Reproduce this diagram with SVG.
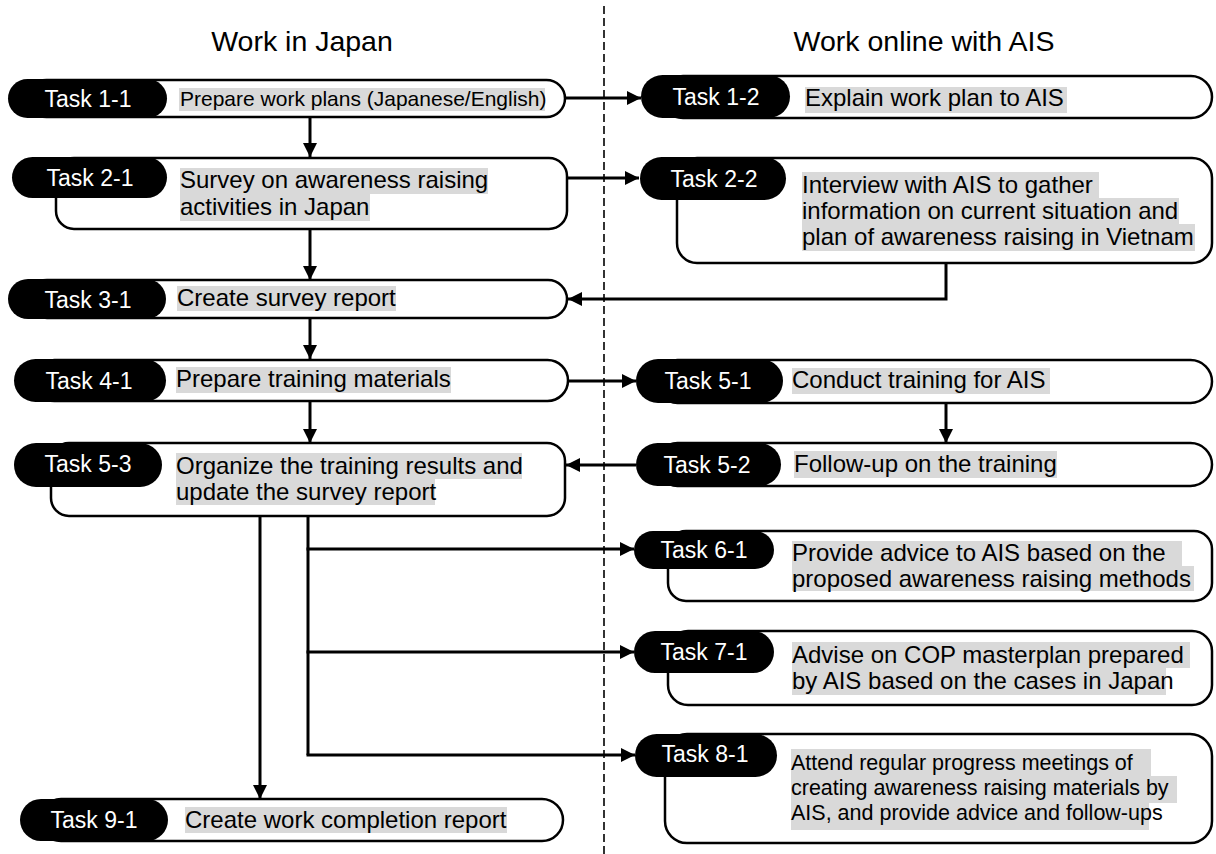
<svg xmlns="http://www.w3.org/2000/svg" width="1216" height="854" viewBox="0 0 1216 854">
<style>
text{font-family:"Liberation Sans",Arial,sans-serif;}
.title{font-size:28.5px;fill:#000;text-anchor:middle;}
.box{fill:#fff;stroke:#000;stroke-width:2.5;}
.pill{fill:#000;}
.lbl{font-size:23px;fill:#fff;text-anchor:middle;}
.t{font-size:24px;fill:#000;}
.ts{font-size:21px;fill:#000;}
.ts2{font-size:21.5px;fill:#000;}
.hl{fill:#d9d9d9;}
.con{fill:none;stroke:#000;stroke-width:3;}
.div{stroke:#000;stroke-width:1.6;stroke-dasharray:8 4;}
</style>
<defs>
<marker id="ah" markerUnits="userSpaceOnUse" markerWidth="15" markerHeight="15" refX="14" refY="7" orient="auto">
<path d="M0,0 L14,7 L0,14 z" fill="#000"/>
</marker>
</defs>
<rect width="1216" height="854" fill="#fff"/>
<line class="div" x1="604" y1="6" x2="604" y2="854"/>
<text class="title" x="302" y="51">Work in Japan</text>
<text class="title" x="924" y="51">Work online with AIS</text>

<g id="connectors">
<line class="con" x1="565" y1="98" x2="641" y2="98" marker-end="url(#ah)"/>
<line class="con" x1="310" y1="117" x2="310" y2="157" marker-end="url(#ah)"/>
<line class="con" x1="567" y1="178" x2="639" y2="178" marker-end="url(#ah)"/>
<line class="con" x1="310" y1="229" x2="310" y2="280" marker-end="url(#ah)"/>
<polyline class="con" points="946,263 946,299 568,299" marker-end="url(#ah)"/>
<line class="con" x1="310" y1="318" x2="310" y2="359" marker-end="url(#ah)"/>
<line class="con" x1="568" y1="381" x2="636" y2="381" marker-end="url(#ah)"/>
<line class="con" x1="946" y1="403" x2="946" y2="443" marker-end="url(#ah)"/>
<line class="con" x1="310" y1="401" x2="310" y2="443" marker-end="url(#ah)"/>
<line class="con" x1="636" y1="465" x2="566" y2="465" marker-end="url(#ah)"/>
<line class="con" x1="260" y1="516" x2="260" y2="799" marker-end="url(#ah)"/>
<polyline class="con" points="308,516 308,755"/>
<line class="con" x1="306.5" y1="549" x2="634" y2="549" marker-end="url(#ah)"/>
<line class="con" x1="306.5" y1="652" x2="634" y2="652" marker-end="url(#ah)"/>
<line class="con" x1="306.5" y1="755" x2="635" y2="755" marker-end="url(#ah)"/>
</g>

<g id="task-1-1">
<rect class="box" x="28" y="80" width="537" height="37" rx="18.5"/>
<rect class="pill" x="8" y="79" width="159" height="39" rx="19.5"/>
<text class="lbl" x="88" y="107">Task 1-1</text>
<rect class="hl" x="179" y="88" width="366" height="23"/>
<text class="ts" x="180" y="106">Prepare work plans (Japanese/English)</text>
</g>

<g id="task-1-2">
<rect class="box" x="662" y="76" width="550" height="42" rx="21"/>
<rect class="pill" x="641" y="75" width="149" height="43" rx="21.5"/>
<text class="lbl" x="716" y="105">Task 1-2</text>
<rect class="hl" x="805" y="87" width="262" height="26"/>
<text class="t" x="805" y="106">Explain work plan to AIS</text>
</g>

<g id="task-2-1">
<rect class="box" x="56" y="158" width="511" height="71" rx="18"/>
<rect class="pill" x="12" y="157" width="155" height="41" rx="20.5"/>
<text class="lbl" x="90" y="186">Task 2-1</text>
<rect class="hl" x="180" y="168" width="308" height="26"/>
<rect class="hl" x="180" y="194" width="190" height="27"/>
<text class="t" x="180" y="188">Survey on awareness raising</text>
<text class="t" x="180" y="215">activities in Japan</text>
</g>

<g id="task-2-2">
<rect class="box" x="677" y="158" width="535" height="105" rx="20"/>
<rect class="pill" x="640" y="157" width="146" height="43" rx="21.5"/>
<text class="lbl" x="714" y="187">Task 2-2</text>
<rect class="hl" x="802" y="172" width="297" height="26"/>
<rect class="hl" x="802" y="198" width="377" height="26"/>
<rect class="hl" x="802" y="224" width="393" height="27"/>
<text class="t" x="802" y="193">Interview with AIS to gather</text>
<text class="t" x="802" y="219">information on current situation and</text>
<text class="t" x="802" y="245">plan of awareness raising in Vietnam</text>
</g>

<g id="task-3-1">
<rect class="box" x="28" y="280" width="539" height="38" rx="19"/>
<rect class="pill" x="8" y="279" width="158" height="40" rx="20"/>
<text class="lbl" x="88" y="308">Task 3-1</text>
<rect class="hl" x="177" y="286" width="219" height="25"/>
<text class="t" x="177" y="306">Create survey report</text>
</g>

<g id="task-4-1">
<rect class="box" x="34" y="360" width="534" height="41" rx="20.5"/>
<rect class="pill" x="14" y="359" width="152" height="43" rx="21.5"/>
<text class="lbl" x="89" y="389">Task 4-1</text>
<rect class="hl" x="176" y="367" width="275" height="26"/>
<text class="t" x="176" y="387">Prepare training materials</text>
</g>

<g id="task-5-1">
<rect class="box" x="656" y="360" width="556" height="43" rx="21.5"/>
<rect class="pill" x="636" y="359" width="147" height="44" rx="22"/>
<text class="lbl" x="708" y="389">Task 5-1</text>
<rect class="hl" x="792" y="368" width="258" height="26"/>
<text class="t" x="792" y="388">Conduct training for AIS</text>
</g>

<g id="task-5-2">
<rect class="box" x="656" y="443" width="556" height="43" rx="21.5"/>
<rect class="pill" x="636" y="443" width="145" height="43" rx="21.5"/>
<text class="lbl" x="707" y="473">Task 5-2</text>
<rect class="hl" x="794" y="451" width="263" height="27"/>
<text class="t" x="794" y="472">Follow-up on the training</text>
</g>

<g id="task-5-3">
<rect class="box" x="51" y="443" width="514" height="73" rx="18"/>
<rect class="pill" x="14" y="443" width="148" height="44" rx="22"/>
<text class="lbl" x="88" y="472">Task 5-3</text>
<rect class="hl" x="176" y="453" width="346" height="26"/>
<rect class="hl" x="176" y="479" width="259" height="26"/>
<text class="t" x="176" y="474">Organize the training results and</text>
<text class="t" x="176" y="500">update the survey report</text>
</g>

<g id="task-6-1">
<rect class="box" x="668" y="531" width="544" height="70" rx="18"/>
<rect class="pill" x="634" y="531" width="140" height="38" rx="19"/>
<text class="lbl" x="704" y="558">Task 6-1</text>
<rect class="hl" x="792" y="541" width="390" height="25"/>
<rect class="hl" x="792" y="566" width="402" height="25"/>
<text class="t" x="792" y="561">Provide advice to AIS based on the</text>
<text class="t" x="792" y="587">proposed awareness raising methods</text>
</g>

<g id="task-7-1">
<rect class="box" x="668" y="631" width="544" height="74" rx="20"/>
<rect class="pill" x="634" y="631" width="140" height="42" rx="21"/>
<text class="lbl" x="704" y="660">Task 7-1</text>
<rect class="hl" x="792" y="642" width="398" height="26"/>
<rect class="hl" x="792" y="668" width="374" height="27"/>
<text class="t" x="792" y="663">Advise on COP masterplan prepared</text>
<text class="t" x="792" y="689">by AIS based on the cases in Japan</text>
</g>

<g id="task-8-1">
<rect class="box" x="665" y="734" width="547" height="109" rx="22"/>
<rect class="pill" x="635" y="734" width="142" height="43" rx="21.5"/>
<text class="lbl" x="705" y="762">Task 8-1</text>
<rect class="hl" x="791" y="749" width="360" height="27"/>
<rect class="hl" x="791" y="776" width="386" height="27"/>
<rect class="hl" x="791" y="803" width="358" height="27"/>
<text class="ts2" x="791" y="770">Attend regular progress meetings of</text>
<text class="ts2" x="791" y="795">creating awareness raising materials by</text>
<text class="ts2" x="791" y="820">AIS, and provide advice and follow-ups</text>
</g>

<g id="task-9-1">
<rect class="box" x="40" y="799" width="523" height="42" rx="21"/>
<rect class="pill" x="20" y="799" width="148" height="42" rx="21"/>
<text class="lbl" x="94" y="828">Task 9-1</text>
<rect class="hl" x="185" y="807" width="322" height="26"/>
<text class="t" x="185" y="828">Create work completion report</text>
</g>
</svg>
